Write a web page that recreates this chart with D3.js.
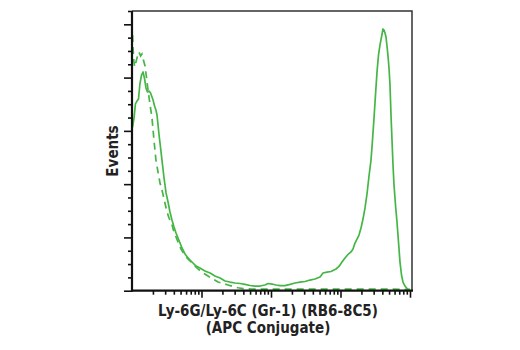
<!DOCTYPE html>
<html>
<head>
<meta charset="utf-8">
<script src="https://cdn.jsdelivr.net/npm/d3@7"></script>
<style>
  html, body { margin: 0; padding: 0; background: #fff; }
  svg { display: block; }
  .lbl { font-family: "Liberation Sans Narrow", "Arial Narrow", "DejaVu Sans Condensed", sans-serif; font-weight: bold; fill: #222; }
</style>
</head>
<body>
<svg id="chart" width="520" height="350"></svg>
<script>
// Fluorescence intensity (log) and event counts for the stained sample (solid)
const stainedIntensity = [10.2, 10.7, 11.2, 11.8, 12.4, 13.0, 13.7, 14.4, 15.1, 15.9, 16.7, 17.6, 18.5, 19.4, 20.1, 21.1, 22.1, 22.9, 23.7, 24.5, 25.3, 27.0, 28.9, 30.9, 33.0, 35.2, 37.6, 40.2, 43.0, 45.9, 49.1, 52.4, 57.9, 63.9, 68.3, 75.5, 83.4, 95, 112, 133, 156, 185, 218, 257, 304, 358, 423, 499, 589, 695, 820, 905, 1034, 1180, 1348, 1590, 1877, 2215, 2614, 3085, 3641, 4297, 5070, 5601, 6395, 7299, 8616, 9515, 10510, 11610, 12820, 14160, 15130, 16170, 17280, 18460, 19720, 21070, 22520, 24060, 25720, 27480, 28870, 30350, 31880, 33510, 35230, 37020, 38900, 40880, 42260, 43690, 45140, 46680, 48250, 49870, 51550, 53290, 55080, 56940, 58870, 61860, 65010, 68310, 71790, 75450, 79290, 84750, 90530, 96740];
const stainedEvents = [122.9, 129.7, 140.2, 142.4, 143.9, 155.2, 161.9, 164.2, 159.7, 152.2, 149.2, 149.9, 148.4, 145.4, 143.2, 138.7, 135.7, 131.9, 124.4, 116.9, 110.9, 98.1, 84.6, 73.4, 66.6, 59.1, 53.1, 47.8, 43.3, 39.6, 35.8, 32.1, 27.6, 24.6, 23.0, 20.8, 18.5, 17.0, 14.8, 13.3, 11.0, 9.5, 7.3, 6.5, 5.8, 5.4, 4.7, 3.9, 3.5, 3.5, 4.3, 5.4, 5.0, 4.3, 3.8, 3.8, 4.7, 5.8, 6.5, 6.9, 8.0, 8.8, 10.3, 13.3, 14.0, 14.4, 16.3, 18.2, 21.5, 24.6, 27.2, 29.1, 31.3, 35.8, 38.8, 41.8, 47.1, 53.8, 62.1, 72.6, 86.1, 98.1, 113.1, 129.7, 146.9, 164.2, 177.0, 184.5, 190.5, 196.5, 195.7, 193.5, 190.5, 183.7, 176.2, 167.2, 154.4, 131.9, 113.1, 94.4, 79.4, 64.3, 51.6, 36.6, 21.5, 11.8, 6.5, 3.5, 1.7, 0.2];

// Isotype control (dashed)
const controlIntensity = [10.2, 10.3, 10.6, 10.9, 11.4, 12.0, 12.6, 13.3, 13.9, 14.6, 15.4, 16.2, 17.0, 18.2, 19.4, 20.7, 22.1, 23.7, 25.3, 27.0, 29.8, 31.9, 34.1, 37.3, 40.2, 43.0, 45.9, 50.7, 56.0, 61.9, 68.3, 78.0, 89.0, 105.1, 124.0, 146.4, 172.8, 204.0, 240.6, 284.0, 335.1, 395.5, 499, 695, 1348, 2614, 9835, 37020, 100000];
const controlEvents = [192.0, 184.5, 173.2, 168.0, 171.7, 176.2, 179.2, 176.2, 177.7, 173.2, 168.7, 159.7, 150.7, 139.4, 129.7, 113.1, 98.1, 89.1, 80.9, 75.6, 65.8, 59.1, 54.6, 50.1, 44.1, 40.3, 36.6, 31.3, 27.6, 24.6, 22.3, 19.3, 16.3, 13.3, 11.0, 8.8, 6.5, 5.4, 4.3, 3.2, 2.2, 1.6, 1.3, 1.2, 1.2, 1.2, 1.2, 1.2, 1.0];

// Axis ticks
const yMajorTicks = [0, 40, 80, 120, 160, 200];
const yMinorTicks = [10, 20, 30, 50, 60, 70, 90, 100, 110, 130, 140, 150, 170, 180, 190, 210];
const xMajorTicks = [100, 1000, 10000, 100000];
const xMinorTicks = [20, 30, 40, 50, 60, 70, 80, 90, 200, 300, 400, 500, 600, 700, 800, 900, 2000, 3000, 4000, 5000, 6000, 7000, 8000, 9000, 20000, 30000, 40000, 50000, 60000, 70000, 80000, 90000];

const xTitle = ["Ly-6G/Ly-6C (Gr-1) (RB6-8C5)", "(APC Conjugate)"];
const yTitle = "Events";

const svg = d3.select("#chart");
const plotLeft = 132, plotRight = 412, plotTop = 11, plotBottom = 290.7;
const green = "#45b645";

const x = d3.scaleLog().domain([10, 100000]).range([plotLeft, 410]);
const y = d3.scaleLinear().domain([0, 210]).range([plotBottom, plotTop]);

// frame (top and right)
svg.append("path")
  .attr("d", `M${plotLeft},${plotTop}H${plotRight}V${plotBottom}`)
  .attr("fill", "none").attr("stroke", "#333").attr("stroke-width", 1.5);

// curves
const line = d3.line().x(d => x(d[0])).y(d => y(d[1])).curve(d3.curveLinear);
svg.append("path")
  .datum(d3.zip(controlIntensity, controlEvents))
  .attr("d", line).attr("fill", "none")
  .attr("stroke", green).attr("stroke-width", 1.7)
  .attr("stroke-dasharray", "7,5");
svg.append("path")
  .datum(d3.zip(stainedIntensity, stainedEvents))
  .attr("d", line).attr("fill", "none")
  .attr("stroke", green).attr("stroke-width", 1.7)
  .attr("stroke-linejoin", "round");

// y axis
const yAxisMajor = d3.axisLeft(y).tickValues(yMajorTicks).tickSize(8).tickFormat("");
const yAxisMinor = d3.axisLeft(y).tickValues(yMinorTicks).tickSize(4).tickFormat("");
const gy = svg.append("g").attr("transform", `translate(${plotLeft},0)`);
gy.call(yAxisMajor);
gy.append("g").call(yAxisMinor);
gy.selectAll(".domain").remove();
gy.selectAll("line").attr("stroke", "#111").attr("stroke-width", 1.6);

// x axis
const xAxisMajor = d3.axisBottom(x).tickValues(xMajorTicks).tickSize(7).tickFormat("");
const xAxisMinor = d3.axisBottom(x).tickValues(xMinorTicks).tickSize(4).tickFormat("");
const gx = svg.append("g").attr("transform", `translate(0,${plotBottom})`);
gx.call(xAxisMajor);
gx.append("g").call(xAxisMinor);
gx.selectAll(".domain").remove();
gx.selectAll("line").attr("stroke", "#111").attr("stroke-width", 1.6);

// axis lines
svg.append("line").attr("x1", plotLeft).attr("x2", plotLeft).attr("y1", plotTop).attr("y2", plotBottom + 1)
  .attr("stroke", "#111").attr("stroke-width", 2.2);
svg.append("line").attr("x1", plotLeft - 1).attr("x2", plotRight + 1).attr("y1", plotBottom).attr("y2", plotBottom)
  .attr("stroke", "#111").attr("stroke-width", 2.2);

// titles
svg.append("text").attr("class", "lbl")
  .attr("transform", `translate(118,151) rotate(-90)`)
  .attr("text-anchor", "middle").attr("font-size", 15).text(yTitle);
svg.selectAll("text.xt").data(xTitle).enter().append("text")
  .attr("class", "lbl xt")
  .attr("x", 268).attr("y", (d, i) => 316 + i * 17)
  .attr("text-anchor", "middle").attr("font-size", 15).text(d => d);
</script>
</body>
</html>
